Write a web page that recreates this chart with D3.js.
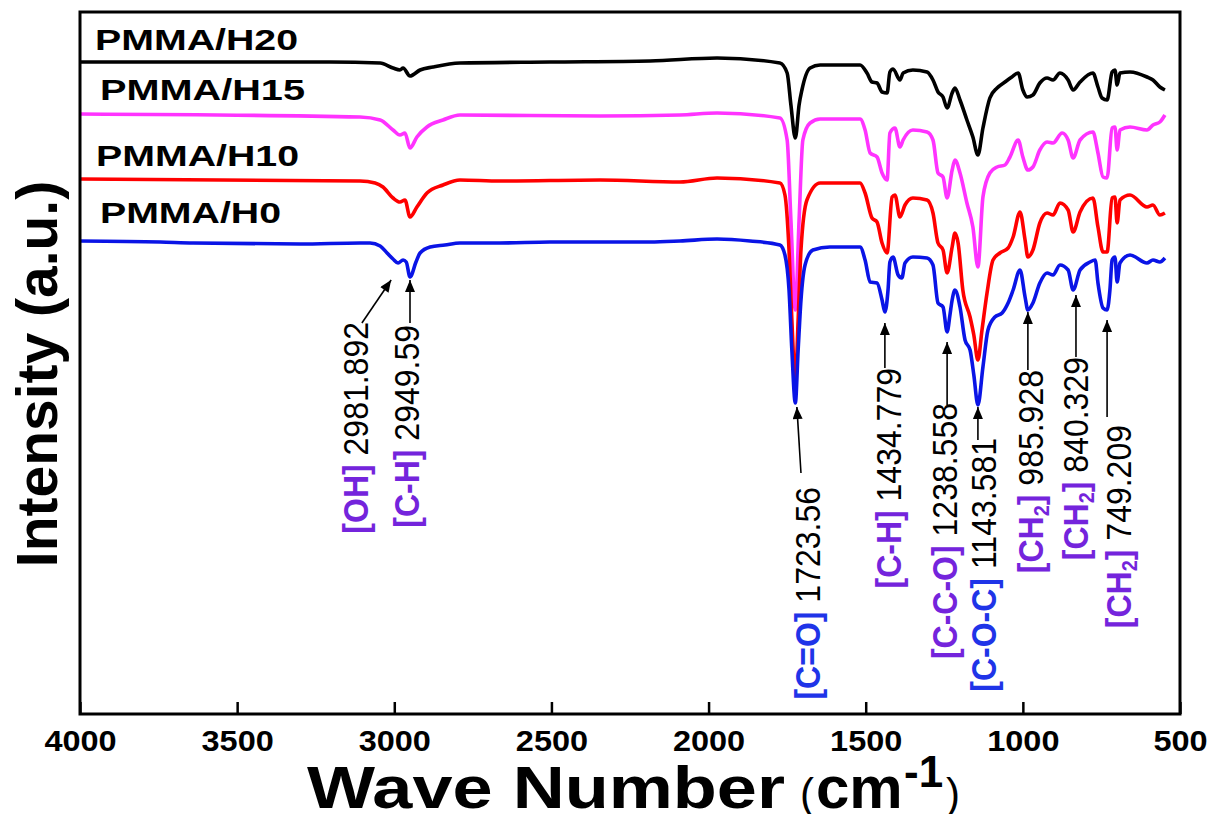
<!DOCTYPE html>
<html>
<head>
<meta charset="utf-8">
<script src="https://cdn.jsdelivr.net/npm/d3@7"></script>
<style>
  body { margin: 0; background: #fff; }
  text { font-family: "Liberation Sans", Arial, sans-serif; }
</style>
</head>
<body>
<script>
const width = 1211;
const height = 814;

// FTIR spectra, [wave number, intensity a.u.] (stacked with offsets as in the figure)
const h0 = [
  [4000,47.3],[3745,47.2],[3640,47.1],[3300,47.0],[3109,47.1],[3077,47.1],[3045,46.8],[3023,46.1],
  [3004,45.5],[2988,45.1],[2972,45.4],[2962,45.2],[2950,43.7],[2931,45.2],[2918,46.1],[2886,46.7],
  [2839,46.9],[2791,47.1],[2664,47.1],[2505,47.2],[2345,47.2],[2186,47.2],[2091,47.3],[1973,47.5],
  [1868,47.3],[1773,46.9],[1757,45.9],[1744,42.4],[1735,36.4],[1724,31.1],[1715,36.4],[1706,41.4],
  [1693,44.9],[1668,46.4],[1614,46.7],[1518,46.7],[1502,45.4],[1486,43.2],[1464,43.1],[1448,41.4],
  [1439,40.2],[1429,42.4],[1423,45.2],[1413,45.7],[1397,43.9],[1385,43.6],[1375,45.1],[1350,45.7],
  [1305,45.6],[1286,44.9],[1270,41.1],[1254,40.7],[1241,38.2],[1232,39.9],[1225,41.4],[1216,42.4],
  [1200,40.7],[1184,37.4],[1168,36.4],[1156,33.9],[1143,30.9],[1127,34.7],[1111,38.4],[1089,39.7],
  [1066,40.1],[1047,41.1],[1031,42.4],[1009,44.4],[993,41.7],[984,40.4],[968,41.1],[946,43.1],
  [923,44.1],[904,43.9],[882,44.9],[856,44.4],[840,42.4],[818,44.4],[786,45.2],[770,45.4],
  [761,43.1],[745,40.6],[732,40.4],[723,42.4],[716,45.4],[707,45.7],[700,43.2],[691,45.1],
  [659,45.9],[605,45.1],[586,45.4],[564,45.2],[548,45.6]
];
const h10 = [
  [4000,53.5],[3109,53.3],[3061,53.1],[3036,52.7],[3004,51.6],[2982,51.2],[2966,51.4],[2950,49.7],
  [2928,50.7],[2896,52.1],[2845,52.9],[2791,53.4],[2664,53.3],[2345,53.4],[2091,53.2],[1973,53.6],
  [1773,53.1],[1757,51.9],[1744,46.4],[1735,39.4],[1724,33.2],[1715,39.4],[1706,46.4],[1687,51.4],
  [1645,53.1],[1518,53.1],[1502,52.1],[1480,49.6],[1464,49.2],[1448,47.1],[1432,46.1],[1416,51.7],
  [1407,51.9],[1391,49.7],[1375,50.9],[1350,51.6],[1305,51.4],[1286,50.1],[1270,47.1],[1254,46.4],
  [1241,44.1],[1225,46.7],[1216,48.1],[1206,47.1],[1191,42.4],[1168,39.7],[1156,37.9],[1143,35.4],
  [1130,38.4],[1114,42.1],[1095,45.4],[1073,46.1],[1047,46.6],[1031,47.7],[1009,50.2],[993,47.4],
  [984,45.7],[968,46.4],[946,49.1],[923,50.1],[904,49.9],[882,51.1],[856,50.4],[840,48.2],
  [818,50.2],[777,51.6],[761,48.7],[745,46.2],[732,46.2],[716,51.6],[707,51.7],[700,49.1],
  [691,51.4],[659,51.9],[605,50.7],[586,50.9],[564,49.9],[548,50.1]
];
const h15 = [
  [4000,60.0],[3109,59.7],[3045,59.4],[3004,58.4],[2982,57.9],[2966,58.1],[2950,56.6],[2928,57.7],
  [2896,58.7],[2845,59.4],[2791,59.9],[2345,59.8],[2091,59.9],[1973,60.1],[1773,59.6],[1750,57.4],
  [1738,49.4],[1724,40.4],[1712,49.4],[1700,57.4],[1677,59.1],[1645,59.5],[1518,59.5],[1502,58.4],
  [1486,56.1],[1464,55.7],[1448,54.1],[1432,53.4],[1423,58.1],[1407,58.6],[1391,56.7],[1381,57.4],
  [1350,58.4],[1305,58.2],[1286,57.4],[1270,54.1],[1254,53.7],[1241,51.6],[1225,54.4],[1216,55.4],
  [1200,54.1],[1178,51.1],[1159,48.7],[1143,44.7],[1127,51.7],[1105,54.1],[1082,54.7],[1057,54.9],
  [1041,55.7],[1015,57.4],[1000,55.7],[984,54.4],[968,54.7],[946,56.4],[923,57.2],[904,57.1],
  [875,58.1],[856,57.4],[840,55.6],[818,57.4],[777,58.2],[761,56.1],[745,53.7],[732,53.6],
  [716,58.6],[707,58.7],[700,56.4],[691,58.4],[659,58.7],[605,58.4],[586,58.9],[564,59.2],[548,59.9]
];
const h20 = [
  [4000,65.2],[3205,65.2],[3045,65.1],[3004,64.6],[2982,64.4],[2972,64.6],[2950,63.8],[2918,64.4],
  [2877,64.7],[2791,65.1],[2505,65.2],[2186,65.3],[1973,65.6],[1773,65.1],[1750,64.1],[1738,60.9],
  [1724,57.6],[1712,60.9],[1703,62.4],[1677,64.6],[1645,64.9],[1518,64.9],[1496,64.1],[1480,63.2],
  [1464,63.1],[1448,62.2],[1432,62.1],[1423,64.2],[1413,64.5],[1391,63.4],[1381,64.1],[1350,64.4],
  [1305,64.2],[1286,63.4],[1270,62.2],[1254,61.7],[1241,60.6],[1225,62.1],[1216,62.6],[1200,61.4],
  [1178,59.4],[1159,57.7],[1143,55.9],[1127,58.6],[1105,61.6],[1082,62.6],[1057,63.2],[1035,63.7],
  [1015,64.1],[1000,62.4],[986,61.7],[968,61.9],[946,63.1],[923,63.6],[904,63.4],[882,64.1],
  [856,63.4],[840,62.4],[818,63.2],[777,64.1],[761,62.7],[748,61.6],[732,61.4],[716,64.2],
  [707,64.4],[700,62.9],[691,64.1],[659,64.2],[605,63.7],[586,63.4],[564,62.7],[548,62.4]
];

const seriesNames = ["PMMA/H20", "PMMA/H15", "PMMA/H10", "PMMA/H0"];
const seriesData = [h20, h15, h10, h0];
const seriesColors = ["#000000", "#ff33ff", "#ff0000", "#0a14e6"];

const xTicks = [4000, 3500, 3000, 2500, 2000, 1500, 1000, 500];

// peak annotations: tag, number, [wn, value] for arrow tip, arrow tail, text end
const peakTags = ["[OH]", "[C-H]", "[C=O]", "[C-H]", "[C-C-O]", "[C-O-C]", "[CH2]", "[CH2]", "[CH2]"];
const peakNums = ["2981.892", "2949.59", "1723.56", "1434.779", "1238.558", "1143.581", "985.928", "840.329", "749.209"];
const peakTip  = [[3010,43.4],[2950,43.4],[1719,30.7],[1439,39.1],[1241,37.2],[1143,30.7],[984,40.2],[831,41.9],[732,39.4]];
const peakTail = [[3103,39.1],[2950,39.1],[1706,24.1],[1439,34.6],[1241,30.9],[1143,27.4],[984,34.4],[831,35.7],[732,29.7]];
const peakText = [[3125,39.2],[2960,38.9],[1684,22.7],[1429,34.6],[1248,31.1],[1124,27.6],[977,34.4],[834,35.7],[697,28.9]];

const purple = "#7424dc";
const blueTag = "#1f34e8";
const tagColor = t => (t === "[C=O]" || t === "[C-O-C]") ? blueTag : purple;

const margin = {left: 80, right: 31, top: 12, bottom: 100};

const x = d3.scaleLinear().domain([4000, 500]).range([margin.left, width - margin.right]);
const y = d3.scaleLinear().domain([0, 70.2]).range([height - margin.bottom, margin.top]);

const svg = d3.select("body").append("svg")
  .attr("width", width)
  .attr("height", height);

svg.append("defs").append("marker")
  .attr("id", "arrow")
  .attr("viewBox", "0 0 12 10")
  .attr("refX", 12).attr("refY", 5)
  .attr("markerWidth", 13).attr("markerHeight", 10)
  .attr("markerUnits", "userSpaceOnUse")
  .attr("orient", "auto")
  .append("path")
  .attr("d", "M0,0 L12,5 L0,10 z")
  .attr("fill", "#000");

const line = d3.line()
  .x(d => x(d[0]))
  .y(d => y(d[1]))
  .curve(d3.curveMonotoneX);

svg.selectAll("path.trace")
  .data(seriesData)
  .enter()
  .append("path")
  .attr("class", "trace")
  .attr("d", line)
  .attr("fill", "none")
  .attr("stroke", (d, i) => seriesColors[i])
  .attr("stroke-width", 3.6)
  .attr("stroke-linejoin", "round");

// series labels
const labelPos = [[95, 50, 203], [100, 100, 205], [96, 166, 203], [100, 223, 181]];
svg.selectAll("text.series")
  .data(seriesNames)
  .enter()
  .append("text")
  .attr("class", "series")
  .attr("x", (d, i) => labelPos[i][0])
  .attr("y", (d, i) => labelPos[i][1])
  .attr("textLength", (d, i) => labelPos[i][2])
  .attr("lengthAdjust", "spacingAndGlyphs")
  .attr("font-size", 29)
  .attr("font-weight", "bold")
  .text(d => d);

// arrows
svg.selectAll("line.arrow")
  .data(peakTip)
  .enter()
  .append("line")
  .attr("class", "arrow")
  .attr("x1", (d, i) => x(peakTail[i][0]))
  .attr("y1", (d, i) => y(peakTail[i][1]))
  .attr("x2", d => x(d[0]))
  .attr("y2", d => y(d[1]))
  .attr("stroke", "#000")
  .attr("stroke-width", 1.6)
  .attr("marker-end", "url(#arrow)");

// peak labels (rotated)
const peakLabels = svg.selectAll("text.peak")
  .data(peakNums)
  .enter()
  .append("text")
  .attr("class", "peak")
  .attr("transform", (d, i) => `translate(${x(peakText[i][0])},${y(peakText[i][1])}) rotate(-90) scale(1,1.12)`)
  .attr("text-anchor", "end")
  .attr("dy", "0.35em")
  .attr("font-size", 32);

peakLabels.each(function(d, i) {
  const t = d3.select(this);
  const tag = peakTags[i];
  const col = tagColor(tag);
  if (tag === "[CH2]") {
    t.append("tspan").attr("fill", col).attr("font-weight", "bold").text("[CH");
    t.append("tspan").attr("fill", col).attr("font-weight", "bold").attr("font-size", 20).attr("dy", 6).text("2");
    t.append("tspan").attr("fill", col).attr("font-weight", "bold").attr("dy", -6).text("]");
  } else {
    t.append("tspan").attr("fill", col).attr("font-weight", "bold").text(tag);
  }
  t.append("tspan").attr("fill", "#000").text(" " + d);
});

// frame
svg.append("rect")
  .attr("x", margin.left)
  .attr("y", margin.top)
  .attr("width", width - margin.left - margin.right)
  .attr("height", height - margin.top - margin.bottom)
  .attr("fill", "none")
  .attr("stroke", "#000")
  .attr("stroke-width", 3);

const xAxis = d3.axisBottom(x)
  .tickValues(xTicks)
  .tickSizeInner(-12)
  .tickSizeOuter(0)
  .tickPadding(16)
  .tickFormat(d3.format("d"));

const gx = svg.append("g")
  .attr("transform", "translate(0," + (height - margin.bottom) + ")")
  .call(xAxis);
gx.select(".domain").remove();
gx.selectAll(".tick line").attr("stroke", "#000").attr("stroke-width", 2.5);
gx.selectAll(".tick text")
  .attr("fill", "#000")
  .attr("font-size", 29)
  .attr("font-weight", "bold")
  .attr("font-family", "\"Liberation Sans\", Arial, sans-serif")
  .attr("transform", "scale(1.12,1)");

// x title
const xt = svg.append("text")
  .attr("y", 808)
  .attr("font-size", 60)
  .attr("font-weight", "bold");
xt.append("tspan").attr("x", 307).attr("textLength", 478).attr("lengthAdjust", "spacingAndGlyphs").text("Wave Number");
xt.append("tspan").attr("x", 800).attr("font-weight", "normal").attr("font-size", 42).text("(");
xt.append("tspan").attr("x", 816).text("cm");
xt.append("tspan").attr("x", 904).attr("font-size", 44).attr("dy", -21).text("-1");
xt.append("tspan").attr("x", 946).attr("font-weight", "normal").attr("font-size", 42).attr("dy", 21).text(")");

// y title
svg.append("text")
  .attr("transform", "translate(37,374) rotate(-90)")
  .attr("text-anchor", "middle")
  .attr("dy", "0.35em")
  .attr("font-size", 57)
  .attr("font-weight", "bold")
  .text("Intensity (a.u.)");
</script>
</body>
</html>
